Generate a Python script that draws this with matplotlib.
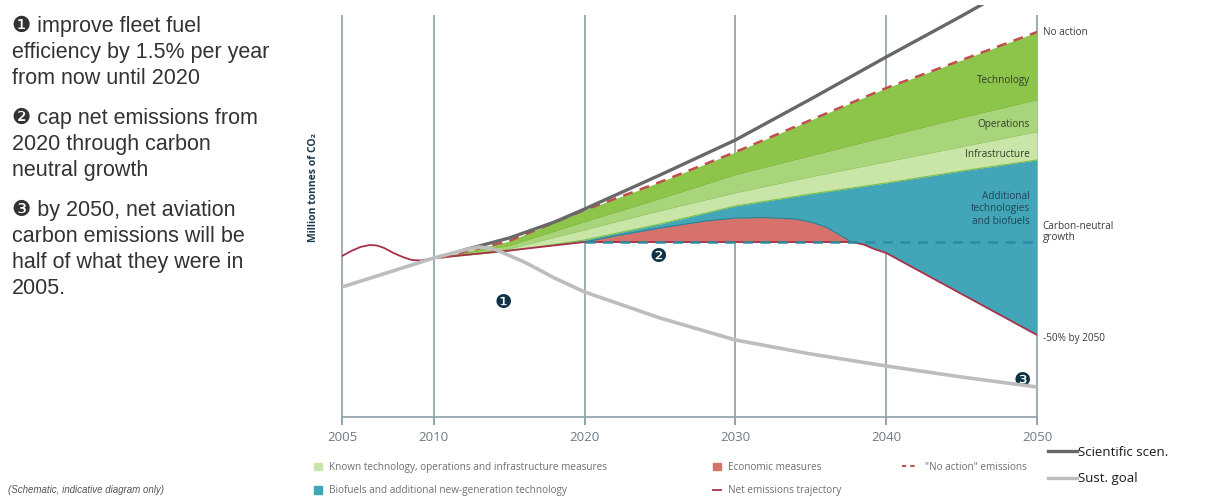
import numpy as np
import matplotlib
matplotlib.use("Agg")
import matplotlib.pyplot as plt
from matplotlib.patches import Patch
from matplotlib.lines import Line2D

# ---------------- data (schematic, arbitrary units) ----------------
tick_years = [2005, 2010, 2020, 2030, 2040, 2050]
tick_labels = ["2005", "2010", "2020", "2030", "2040", "2050"]

net_years = [2005, 2005.5, 2006, 2006.5, 2006.9, 2007.3, 2007.8, 2008.3, 2008.8, 2009.3, 2010,
             2010.5, 2012, 2015, 2020, 2025, 2030, 2035, 2037.7, 2038.5, 2039.2, 2040, 2045, 2050]
net_values = [161, 166, 170, 172, 171.5, 169, 164, 160, 157, 156.5, 159,
              159.5, 162, 166.5, 175, 175, 175, 175, 175, 172.5, 168, 164, 123, 82]

band_years = [2010.5, 2012, 2015, 2020, 2025, 2030, 2035, 2040, 2045, 2050]
no_action = [159.5, 165, 176, 207, 235, 265, 297, 329, 357, 385]
tech_ops = [159.5, 163.5, 171, 195, 218, 242, 261, 280, 299, 317]
ops_infra = [159.5, 162.5, 168, 187, 206, 224, 240, 255, 270, 285]
infra_teal = [159.5, 161.5, 166, 177, 193, 211, 223, 234, 246, 257]

econ_years = [2020, 2022, 2025, 2028, 2030, 2032, 2034, 2035, 2036, 2036.8, 2037.7]
econ_top = [175, 181, 189, 196, 199, 199.5, 198, 195, 190, 183, 175]

cap_years = [2020, 2050]
cap_values = [175, 175]

sci_years = [2012, 2015, 2018, 2020, 2025, 2030, 2035, 2040, 2045, 2047]
sci_values = [167, 179, 195, 208, 242, 277, 318, 360, 401, 418]

sust_years = [2005, 2010, 2012, 2013, 2014, 2016, 2018, 2020, 2025, 2030, 2035, 2040, 2045, 2050]
sust_values = [130, 159, 167, 170, 168, 155, 139, 125, 99, 77, 63, 51, 40, 30]

markers = [("\u2776", 2014.6, 115), ("\u2777", 2024.9, 160), ("\u2778", 2049.0, 37)]

left_lines = [
    "\u2776 improve fleet fuel", "efficiency by 1.5% per year", "from now until 2020",
    "\u2777 cap net emissions from", "2020 through carbon", "neutral growth",
    "\u2778 by 2050, net aviation", "carbon emissions will be", "half of what they were in", "2005.",
]
left_baselines = [32, 58, 84, 124, 150, 176, 216, 242, 268, 294]

# ---------------- colours ----------------
C_TECH = "#8cc54a"
C_OPS = "#a8d47b"
C_INFRA = "#c9e6a8"
C_TEAL = "#42a6b8"
C_ECON = "#d7716b"
C_NET = "#a8304a"
C_NOACT = "#c0504d"
C_CAP = "#2a8ea2"
C_SCI = "#686868"
C_SUST = "#bdbdbd"
C_GRID = "#95a5ae"
C_NAVY = "#0f3246"

W, H = 1208, 497
fig = plt.figure(figsize=(W / 100, H / 100), dpi=100)
ax = fig.add_axes([342 / W, (H - 417) / H, (1037 - 342) / W, (417 - 5) / H])

k = 92 / 75.5


def fwd(x):
    x = np.asarray(x, dtype=float)
    return np.where(x < 2010, 2010 - (2010 - x) * k, x)


def inv(x):
    x = np.asarray(x, dtype=float)
    return np.where(x < 2010, 2010 - (2010 - x) / k, x)


ax.set_xscale("function", functions=(fwd, inv))
ax.set_xlim(2005, 2050)
ax.set_ylim(0, 412)

# grid lines
ax.vlines(tick_years, -8, 402, color=C_GRID, lw=1.3, zorder=1, clip_on=False)

# teal area: from net line up to the green bands
n_tail = sum(1 for y in net_years if y >= 2010.5)
poly_x = np.r_[band_years, net_years[::-1][:n_tail]]
poly_y = np.r_[infra_teal, net_values[::-1][:n_tail]]
ax.fill(poly_x, poly_y, color=C_TEAL, lw=0, zorder=2)

# economic measures
ax.fill_between(econ_years, econ_top, [cap_values[0]] * len(econ_years), color=C_ECON, lw=0, zorder=3)
ax.plot(econ_years, econ_top, color="#2f7f90", lw=0.8, zorder=3)

# green bands
ax.fill_between(band_years, infra_teal, ops_infra, color=C_INFRA, lw=0, zorder=3)
ax.fill_between(band_years, ops_infra, tech_ops, color=C_OPS, lw=0, zorder=3)
ax.fill_between(band_years, tech_ops, no_action, color=C_TECH, lw=0, zorder=3)
ax.plot(band_years, ops_infra, color="#9ccb6c", lw=0.6, zorder=3)
ax.plot(band_years, tech_ops, color="#85bd45", lw=0.6, zorder=3)
ax.plot(band_years, infra_teal, color="#7cc04a", lw=0.8, zorder=3)

# lines
ax.plot(net_years, net_values, color=C_NET, lw=1.3, zorder=5)
ax.plot(cap_years, cap_values, color=C_CAP, lw=1.8, ls=(0, (4, 3)), zorder=6)
ax.plot(band_years, no_action, color=C_NOACT, lw=1.8, ls=(0, (4, 3)), zorder=6)
ax.plot(sci_years, sci_values, color=C_SCI, lw=2.4, zorder=7, solid_capstyle="round")

for txt, mx, my in markers:
    ax.text(mx, my, txt, fontsize=14, color=C_NAVY, ha="center", va="center",
            family="DejaVu Sans", zorder=4)

ax.plot(sust_years, sust_values, color=C_SUST, lw=2.6, zorder=8, solid_capstyle="round")

# axes styling
for s in ["top", "right", "left"]:
    ax.spines[s].set_visible(False)
ax.spines["bottom"].set_color(C_GRID)
ax.spines["bottom"].set_linewidth(1.3)
ax.set_yticks([])
ax.set_xticks(tick_years)
ax.set_xticklabels(tick_labels, family="Open Sans", fontsize=9.5, color="#6f7a82")
ax.tick_params(axis="x", length=6, width=1.3, color=C_GRID, pad=4)
ax.patch.set_alpha(0)

# right-side annotations
lab_kw = dict(family="Open Sans", fontsize=7.2, color="#3d3d3d", annotation_clip=False,
              textcoords="offset points", va="center")
ax.annotate("No action", xy=(2050, 385), xytext=(4, 0), ha="left", **lab_kw)
ax.annotate("Carbon-neutral\ngrowth", xy=(2050, 185), xytext=(4, 0), ha="left", linespacing=1.1, **lab_kw)
ax.annotate("-50% by 2050", xy=(2050, 79), xytext=(4, 0), ha="left", **lab_kw)
inner_kw = dict(family="Open Sans", fontsize=7.2, color="#30402a", annotation_clip=False,
                textcoords="offset points", va="center", ha="right")
ax.annotate("Technology", xy=(2050, 337), xytext=(-5, 0), **inner_kw)
ax.annotate("Operations", xy=(2050, 293), xytext=(-5, 0), **inner_kw)
ax.annotate("Infrastructure", xy=(2050, 263), xytext=(-5, 0), **inner_kw)
ax.annotate("Additional\ntechnologies\nand biofuels", xy=(2050, 208), xytext=(-5, 0),
            linespacing=1.15, **dict(inner_kw, color="#1f4657"))

# y label
fig.text(313 / W, 1 - 187 / H, "Million tonnes of CO\u2082", rotation=90, ha="center", va="center",
         family=["Open Sans", "DejaVu Sans"], fontweight="bold", fontsize=7.5, color="#1d3a4c")

# left explanatory text
for line, yb in zip(left_lines, left_baselines):
    fig.text(12 / W, 1 - yb / H, line, ha="left", va="baseline", fontsize=15.5,
             family=["Liberation Sans", "DejaVu Sans"], color="#333333")

fig.text(8 / W, 1 - 490 / H, "(Schematic, indicative diagram only)", ha="left", va="center",
         fontsize=7, style="italic", family="Liberation Sans", color="#555555")

# legends
leg_kw = dict(frameon=False, loc="upper left", prop={"family": "Open Sans", "size": 7.2},
              labelcolor="#707070", handlelength=0.8, handleheight=0.8, handletextpad=0.7,
              labelspacing=1.25, borderaxespad=0, borderpad=0)
fig.legend(handles=[Patch(color=C_INFRA, label="Known technology, operations and infrastructure measures"),
                    Patch(color=C_TEAL, label="Biofuels and additional new-generation technology")],
           bbox_to_anchor=(314 / W, 1 - 462 / H), **leg_kw)
fig.legend(handles=[Patch(color=C_ECON, label="Economic measures"),
                    Line2D([], [], color=C_NET, lw=1.3, label="Net emissions trajectory")],
           bbox_to_anchor=(713 / W, 1 - 462 / H), **leg_kw)
fig.legend(handles=[Line2D([], [], color=C_NOACT, lw=1.5, ls=(0, (2, 2)), label='"No action" emissions')],
           bbox_to_anchor=(902 / W, 1 - 462 / H), **dict(leg_kw, handlelength=1.6))
fig.legend(handles=[Line2D([], [], color=C_SCI, lw=2.4, label="Scientific scen."),
                    Line2D([], [], color=C_SUST, lw=2.4, label="Sust. goal")],
           bbox_to_anchor=(1048 / W, 1 - 446 / H), frameon=False, loc="upper left",
           prop={"family": "Open Sans", "size": 9.5}, labelcolor="#1a1a1a", handlelength=2.2,
           handletextpad=0.05, labelspacing=1.0, borderaxespad=0, borderpad=0)

fig.savefig("out.png", dpi=100)
